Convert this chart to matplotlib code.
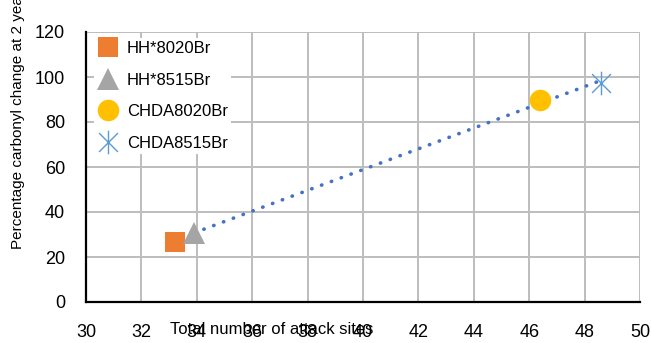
import matplotlib.pyplot as plt
import numpy as np
from matplotlib.path import Path

plt.rcParams["font.family"] = ["Liberation Sans", "DejaVu Sans"]

# Attack sites vs carbonyl change for each sample
labels = ["HH*8020Br", "HH*8515Br", "CHDA8020Br", "CHDA8515Br"]
attack_sites = [33.2, 33.9, 46.4, 48.6]
carbonyl_change = [26.7, 30.5, 89.8, 97.3]

colors = ["#ED7D31", "#A5A5A5", "#FFC000", "#5B9BD5"]

# Excel-style star: vertical bar plus an X
star = Path(
    [(0, -1), (0, 1), (-0.8, -0.8), (0.8, 0.8), (-0.8, 0.8), (0.8, -0.8)],
    [Path.MOVETO, Path.LINETO] * 3,
)
markers = ["s", "^", "o", star]
sizes = [14.5, 15.5, 15.5, 17]

fig = plt.figure(figsize=(6.51, 3.43), dpi=100)
ax = fig.add_axes([86 / 651, 41 / 343, 554 / 651, 270 / 343])

for lab, x, y, c, m, s in zip(labels, attack_sites, carbonyl_change, colors, markers, sizes):
    kw = dict(color=c, markeredgewidth=0)
    if m is star:
        kw = dict(color="none", markeredgecolor=c, markeredgewidth=1.0)
    ax.plot([x], [y], linestyle="none", marker=m, markersize=s, label=lab, zorder=3, **kw)

# Linear trend through the upper three samples
fit_x = np.array(attack_sites[1:])
coef = np.polyfit(fit_x, carbonyl_change[1:], 1)
xx = np.array([fit_x.min(), fit_x.max()])
ax.plot(xx, np.polyval(coef, xx), linestyle=(0, (0.1, 2.8)), color="#4472C4",
        linewidth=2.6, dash_capstyle="round", zorder=2)

ax.set_xlim(30, 50)
ax.set_ylim(0, 120)
ax.set_xticks(np.arange(30, 51, 2))
ax.set_yticks(np.arange(0, 121, 20))
ax.grid(True, color="#BDBDBD", linewidth=1.4)
ax.set_axisbelow(True)
for side in ["top", "right"]:
    ax.spines[side].set_visible(False)
for side in ["left", "bottom"]:
    ax.spines[side].set_linewidth(1.6)
ax.tick_params(axis="both", length=0, labelsize=13)
ax.tick_params(axis="x", pad=16)
ax.tick_params(axis="y", pad=15)

leg = ax.legend(loc="upper left", bbox_to_anchor=(0.0, 1.01), frameon=True,
                fancybox=False, edgecolor="white", facecolor="white",
                framealpha=1, fontsize=12, handletextpad=0.45,
                labelspacing=1.0, borderpad=0.2, handlelength=1.3)
leg.get_frame().set_linewidth(0)

fig.text(272 / 651, 1 - 329 / 343, "Total number of attack sites", ha="center",
         va="center", fontsize=12)
fig.text(18 / 651, 1 - 249 / 343, "Percentage carbonyl change at 2 years",
         rotation=90, ha="center", va="bottom", fontsize=11)

fig.savefig("out.png", dpi=100)
